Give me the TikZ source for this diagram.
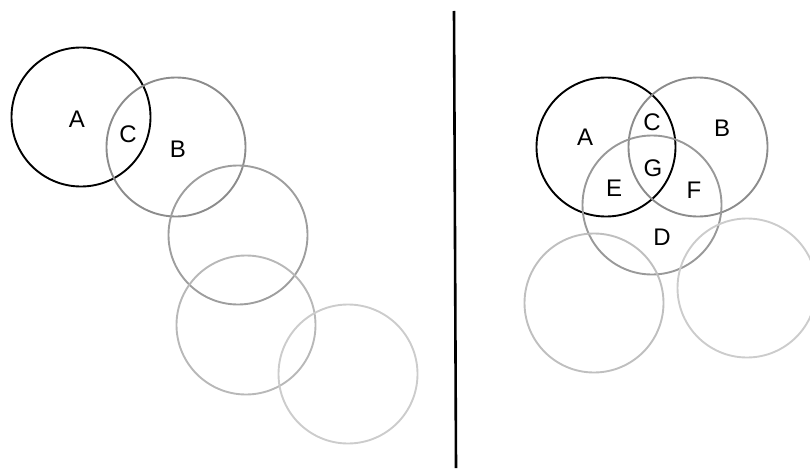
\documentclass[tikz,border=0pt]{standalone}
\usepackage{fontspec}
\setmainfont{Liberation Sans}

\begin{document}
\begin{tikzpicture}[x=1pt, y=-1pt,
    ring/.style={circle, minimum size=139pt, inner sep=0pt, line width=1.9pt},
    letter/.style={font=\fontsize{24}{24}\selectfont, inner sep=0pt}]
    \useasboundingbox (0,0) rectangle (810,468);
    % left panel: a chain of circles
    \node[ring, draw=black]    (lA) at (81,117)  {};
    \node[ring, draw=black!45] (lB) at (176,147) {};
    \node[ring, draw=black!38] (l3) at (238,235) {};
    \node[ring, draw=black!28] (l4) at (246,325) {};
    \node[ring, draw=black!20] (l5) at (348,374) {};
    \node[letter] (ltA) at (77,119)  {A};
    \node[letter] (ltC) at (128,134) {C};
    \node[letter] (ltB) at (178,149) {B};
    % divider
    \coordinate (top) at (454,11);
    \coordinate (bot) at (456,468);
    \draw[line width=2.6pt] (top) -- (bot);
    % right panel: three overlapping sets
    \node[ring, draw=black]    (rA) at (606,147) {};
    \node[ring, draw=black!45] (rB) at (698,147) {};
    \node[ring, draw=black!40] (rD) at (652,205) {};
    \node[ring, draw=black!25] (r4) at (594,303) {};
    \node[ring, draw=black!20] (r5) at (747,288) {};
    \node[letter] (rtA) at (585,137) {A};
    \node[letter] (rtC) at (652,122) {C};
    \node[letter] (rtB) at (722,128) {B};
    \node[letter] (rtG) at (653,168) {G};
    \node[letter] (rtE) at (614,188) {E};
    \node[letter] (rtF) at (694,190) {F};
    \node[letter] (rtD) at (662,237) {D};
\end{tikzpicture}
\end{document}
